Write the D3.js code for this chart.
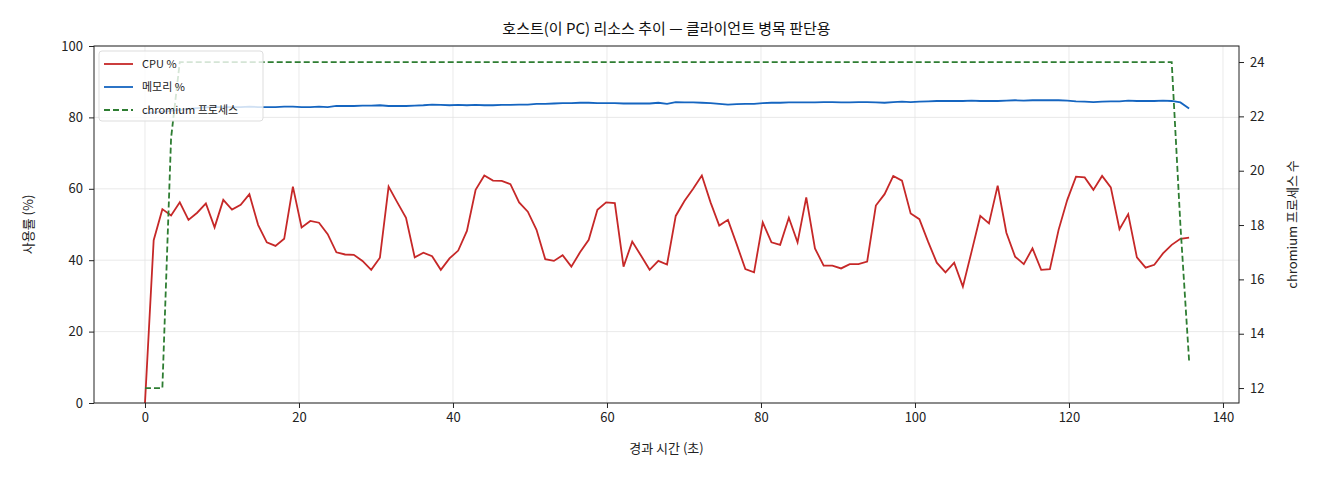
<!DOCTYPE html>
<html><head><meta charset="utf-8">
<script src="https://cdn.jsdelivr.net/npm/d3@7"></script>
<style>body{margin:0;background:#fff}text{font-family:"Noto Sans CJK KR","DejaVu Sans",sans-serif}</style>
</head><body><svg id="c" width="1320" height="480"></svg>
<script>
const title = "호스트(이 PC) 리소스 추이 — 클라이언트 병목 판단용";
const xLabel = "경과 시간 (초)";
const yLabel = "사용률 (%)";
const y2Label = "chromium 프로세스 수";
const seriesNames = ["CPU %", "메모리 %", "chromium 프로세스"];
const sampleStep = 1.13;
const cpu = [0,45.6,54.3,52.5,56.2,51.3,53.3,55.9,49.2,56.9,54.2,55.5,58.5,49.9,45,44,46,60.6,49.2,51,50.5,47.3,42.2,41.6,41.5,39.8,37.3,40.7,60.6,56.2,51.9,40.8,42.1,41.1,37.3,40.5,42.7,48.2,59.7,63.7,
62.3,62.2,61.3,56.2,53.6,48.5,40.3,39.8,41.4,38.2,42.2,45.7,54.1,56.2,56,38.2,45.2,41.3,37.3,39.8,38.8,52.4,56.6,60,63.7,56.2,49.7,51.3,44.5,37.5,36.6,50.6,45,44.3,51.9,45,57.6,43.3,38.5,38.5,37.7,38.9,38.9,39.6,55.3,
58.5,63.6,62.3,53.1,51.5,45.2,39.3,36.6,39.3,32.6,42.4,52.4,50.3,60.9,47.7,41,38.9,43.3,37.3,37.5,48.5,56.9,63.4,63.2,59.7,63.6,60.4,48.7,52.9,40.8,37.9,38.7,41.9,44.3,46,46.3];
const mem = [81.2,81.4,81.6,81.8,82.1,82.4,82.6,82.8,82.9,82.9,82.9,82.9,83.0,82.9,82.9,82.9,83.0,83.0,82.9,82.9,83.0,82.9,83.2,83.2,83.2,83.3,83.3,83.4,83.2,83.2,83.2,83.3,83.4,83.6,83.5,83.4,83.5,83.4,83.5,83.4,
83.4,83.5,83.5,83.6,83.6,83.8,83.8,83.9,84.0,84.0,84.1,84.1,84.0,84.0,84.0,83.9,83.9,83.9,83.9,84.1,83.8,84.3,84.2,84.2,84.1,84.0,83.8,83.6,83.7,83.8,83.8,84.0,84.1,84.1,84.2,84.2,84.2,84.2,84.3,84.3,84.2,84.2,84.3,84.3,84.2,84.1,
84.3,84.4,84.3,84.4,84.5,84.6,84.6,84.6,84.6,84.7,84.6,84.6,84.6,84.7,84.8,84.7,84.8,84.8,84.8,84.8,84.7,84.5,84.4,84.3,84.4,84.5,84.5,84.7,84.6,84.6,84.6,84.7,84.6,84.2,82.5,80.6];
const chromium = [12,12,12,21.2].concat(Array(115).fill(24)).concat([18,13]);
const xTicks = [0,20,40,60,80,100,120,140];
const yTicks = [0,20,40,60,80,100];
const y2Ticks = [12,14,16,18,20,22,24];

const svg = d3.select("#c");
const L=94,R=1239,T=46,B=403;
const t = cpu.map((_,i)=>i*sampleStep);
const x = d3.scaleLinear().domain([-6.62,142.08]).range([L,R]);
const y = d3.scaleLinear().domain([0,100]).range([B,T]);
const y2 = d3.scaleLinear().domain([11.45,24.59]).range([B,T]);

const g = svg.append("g");
g.selectAll(".gx").data(xTicks).join("line").attr("x1",d=>x(d)).attr("x2",d=>x(d)).attr("y1",T).attr("y2",B).attr("stroke","#e3e3e3").attr("stroke-width",0.8);
g.selectAll(".gy").data(yTicks).join("line").attr("x1",L).attr("x2",R).attr("y1",d=>y(d)).attr("y2",d=>y(d)).attr("stroke","#e3e3e3").attr("stroke-width",0.8);

function styleAxis(a){a.selectAll("text").attr("font-size",13).attr("fill","#222");a.select(".domain").remove();a.selectAll("line").attr("stroke","#222");}
svg.append("g").attr("transform",`translate(0,${B})`).call(d3.axisBottom(x).tickValues(xTicks).tickSize(5).tickPadding(5)).call(styleAxis);
svg.append("g").attr("transform",`translate(${L},0)`).call(d3.axisLeft(y).tickValues(yTicks).tickSize(5).tickPadding(6)).call(styleAxis);
svg.append("g").attr("transform",`translate(${R},0)`).call(d3.axisRight(y2).tickValues(y2Ticks).tickSize(5).tickPadding(6)).call(styleAxis);

const line = (ys,sc)=>d3.line().x((d,i)=>x(t[i])).y(d=>sc(d))(ys);
svg.append("path").attr("d",line(cpu,y)).attr("fill","none").attr("stroke","#c62828").attr("stroke-width",1.8);
svg.append("path").attr("d",line(mem,y)).attr("fill","none").attr("stroke","#1565c0").attr("stroke-width",1.8);
svg.append("path").attr("d",line(chromium,y2)).attr("fill","none").attr("stroke","#2e7d32").attr("stroke-width",1.8).attr("stroke-dasharray","6,3");

svg.append("rect").attr("x",L).attr("y",T).attr("width",R-L).attr("height",B-T).attr("fill","none").attr("stroke","#222").attr("stroke-width",1);

const lg = svg.append("g");
lg.append("rect").attr("x",99).attr("y",51).attr("width",164).attr("height",70).attr("rx",3).attr("fill","rgba(255,255,255,0.8)").attr("stroke","#ddd");
const cols=["#c62828","#1565c0","#2e7d32"];
seriesNames.forEach((n,i)=>{
  const yy=64+i*23;
  lg.append("line").attr("x1",104).attr("x2",133).attr("y1",yy).attr("y2",yy).attr("stroke",cols[i]).attr("stroke-width",1.8).attr("stroke-dasharray",i==2?"6,3":null);
  lg.append("text").attr("x",142).attr("y",yy+4).attr("font-size",11).attr("fill","#222").text(n);
});

svg.append("text").attr("x",(L+R)/2).attr("y",34).attr("text-anchor","middle").attr("font-size",15).attr("fill","#111").text(title);
svg.append("text").attr("x",(L+R)/2).attr("y",453).attr("text-anchor","middle").attr("font-size",13).attr("fill","#222").text(xLabel);
svg.append("text").attr("transform",`translate(33,${(T+B)/2}) rotate(-90)`).attr("text-anchor","middle").attr("font-size",13).attr("fill","#222").text(yLabel);
svg.append("text").attr("transform",`translate(1297,${(T+B)/2}) rotate(-90)`).attr("text-anchor","middle").attr("font-size",13).attr("fill","#222").text(y2Label);
</script></body></html>
